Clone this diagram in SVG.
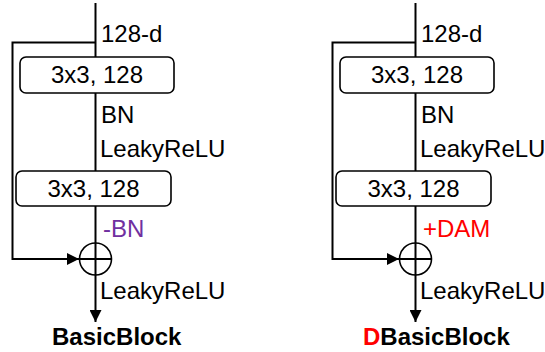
<svg xmlns="http://www.w3.org/2000/svg" width="545" height="352" viewBox="0 0 545 352">
<style>
text{font-family:"Liberation Sans",Arial,sans-serif;font-size:24px;fill:#000}
.box{fill:#fff;stroke:#000;stroke-width:1.6}
.ln{fill:none;stroke:#000;stroke-width:2}
.sum{fill:#fff;stroke:#000;stroke-width:1.6}
.b{font-weight:bold}
.mid{text-anchor:middle}
</style>
<defs>
<marker id="ah" viewBox="0 0 10 10" refX="10" refY="5" markerWidth="6.5" markerHeight="6" markerUnits="strokeWidth" orient="auto">
<path d="M0,0L10,5L0,10z" fill="#000"/>
</marker>
</defs>
<g id="connectors">
<path class="ln" d="M95.5,3V243"/>
<path class="ln" d="M95.5,42.5H12.5V259H79" marker-end="url(#ah)"/>
<path class="ln" d="M95.5,275V322" marker-end="url(#ah)"/>
<path class="ln" d="M415.5,3V243"/>
<path class="ln" d="M415.5,42.5H332.5V259H399" marker-end="url(#ah)"/>
<path class="ln" d="M415.5,275V322" marker-end="url(#ah)"/>
</g>
<g id="basic-conv1"><rect class="box" x="20" y="57" width="154" height="36" rx="6"/><text class="mid" x="97" y="83">3x3, 128</text></g>
<g id="basic-conv2"><rect class="box" x="16" y="171" width="155" height="35" rx="6"/><text class="mid" x="93.5" y="197">3x3, 128</text></g>
<g id="basic-sum"><circle class="sum" cx="95.5" cy="259" r="16"/><path class="ln" d="M79.5,259H111.5M95.5,243V275" stroke-width="1.6"/></g>
<g id="basic-labels">
<text x="101" y="42">128-d</text>
<text x="101" y="123">BN</text>
<text x="100" y="157">LeakyReLU</text>
<text x="103" y="237" style="fill:#7030A0">-BN</text>
<text x="100" y="299">LeakyReLU</text>
<text class="b" x="52" y="345">BasicBlock</text>
</g>
<g id="d-conv1"><rect class="box" x="340" y="57" width="154" height="36" rx="6"/><text class="mid" x="417" y="83">3x3, 128</text></g>
<g id="d-conv2"><rect class="box" x="336" y="171" width="155" height="35" rx="6"/><text class="mid" x="413.5" y="197">3x3, 128</text></g>
<g id="d-sum"><circle class="sum" cx="415.5" cy="259" r="16"/><path class="ln" d="M399.5,259H431.5M415.5,243V275" stroke-width="1.6"/></g>
<g id="d-labels">
<text x="421" y="42">128-d</text>
<text x="421" y="123">BN</text>
<text x="420" y="157">LeakyReLU</text>
<text x="423" y="237" style="fill:#FF0000">+DAM</text>
<text x="420" y="299">LeakyReLU</text>
<text class="b" x="363" y="345"><tspan style="fill:#FF0000">D</tspan>BasicBlock</text>
</g>
</svg>
